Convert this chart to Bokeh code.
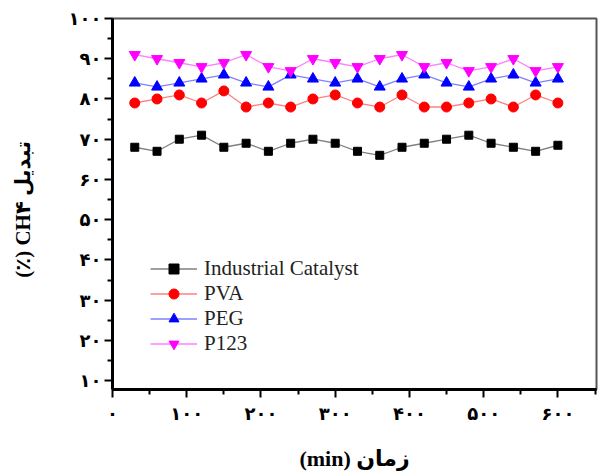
from bokeh.plotting import figure
from bokeh.models import Range1d, FixedTicker, Legend, LegendItem
from bokeh.embed import file_html
from bokeh.resources import INLINE

# ---- data ----
time_min = [30, 60, 90, 120, 150, 180, 210, 240, 270, 300,
            330, 360, 390, 420, 450, 480, 510, 540, 570, 600]
industrial = [68, 67, 70, 71, 68, 69, 67, 69, 70, 69,
              67, 66, 68, 69, 70, 71, 69, 68, 67, 68.5]
pva = [79, 80, 81, 79, 82, 78, 79, 78, 80, 81,
       79, 78, 81, 78, 78, 79, 80, 78, 81, 79]
peg = [84, 83, 84, 85, 86, 84, 83, 86, 85, 84,
       85, 83, 85, 86, 84, 83, 85, 86, 84, 85]
p123 = [91, 90, 89, 88, 89, 91, 88, 87, 90, 89,
        88, 90, 91, 88, 89, 87, 88, 90, 87, 88]

series_names = ["Industrial Catalyst", "PVA", "PEG", "P123"]

x_ticks = [0, 100, 200, 300, 400, 500, 600]
x_tick_labels = ["۰", "۱۰۰", "۲۰۰", "۳۰۰", "۴۰۰", "۵۰۰", "۶۰۰"]
x_minor = [50, 150, 250, 350, 450, 550, 650]
y_ticks = [10, 20, 30, 40, 50, 60, 70, 80, 90, 100]
y_tick_labels = ["۱۰", "۲۰", "۳۰", "۴۰", "۵۰", "۶۰", "۷۰", "۸۰", "۹۰", "۱۰۰"]
y_minor = [15, 25, 35, 45, 55, 65, 75, 85, 95]

x_title = "(min) زمان"
y_title = "(٪) CH۴ تبدیل\u00a0\u00a0"

# ---- figure ----
p = figure(width=599, height=473, output_backend="svg", toolbar_location=None,
           x_range=Range1d(0, 652), y_range=Range1d(7.8, 100),
           min_border_left=112, min_border_top=18, min_border_right=3,
           min_border_bottom=80)
p.xgrid.visible = False
p.ygrid.visible = False
p.outline_line_color = "#555555"
p.outline_line_width = 2
p.background_fill_color = "white"

p.xaxis.ticker = FixedTicker(ticks=x_ticks, minor_ticks=x_minor)
p.yaxis.ticker = FixedTicker(ticks=y_ticks, minor_ticks=y_minor)
p.xaxis.major_label_overrides = dict(zip(x_ticks, x_tick_labels))
p.yaxis.major_label_overrides = dict(zip(y_ticks, y_tick_labels))

for ax in (p.xaxis, p.yaxis):
    ax.axis_line_width = 3
    ax.axis_line_color = "black"
    ax.major_tick_line_width = 2
    ax.minor_tick_line_width = 2
    ax.major_tick_out = 8
    ax.major_tick_in = 0
    ax.minor_tick_out = 5
    ax.minor_tick_in = 0
    ax.major_label_text_font = "DejaVu Sans"
    ax.major_label_text_font_style = "bold"
    ax.major_label_text_font_size = "18px"
    ax.major_label_text_color = "black"
    ax.axis_label_text_font = "Liberation Serif, DejaVu Sans"
    ax.axis_label_text_font_style = "bold"
    ax.axis_label_text_color = "black"

p.xaxis.axis_label_text_font_size = "22px"
p.yaxis.axis_label_text_font_size = "21px"
p.xaxis.axis_label = x_title
p.yaxis.axis_label = y_title
p.xaxis.major_label_standoff = 5
p.yaxis.major_label_standoff = 3
p.xaxis.axis_label_standoff = 19
p.yaxis.axis_label_standoff = 31

colors = ["black", "#FF0000", "#0000FF", "#FF00FF"]
markers = ["square", "circle", "triangle", "inverted_triangle"]
sizes = [8, 10, 11, 11]
data = [industrial, pva, peg, p123]

items = []
for name, vals, c, m, s in zip(series_names, data, colors, markers, sizes):
    ln = p.line(time_min, vals, line_color=c, line_alpha=0.5, line_width=1.3)
    sc = p.scatter(time_min, vals, marker=m, size=s, fill_color=c, line_color=c)
    items.append(LegendItem(label=name, renderers=[ln, sc]))

legend = Legend(items=items, location=(38, 33), border_line_color=None,
                background_fill_alpha=0, glyph_width=47, glyph_height=25,
                label_height=25, label_standoff=7, padding=0, margin=0,
                spacing=0, label_text_font="Liberation Serif",
                label_text_font_size="21px", label_text_color="#222222")
p.add_layout(legend)

open("out.html", "w").write(file_html(p, INLINE))
